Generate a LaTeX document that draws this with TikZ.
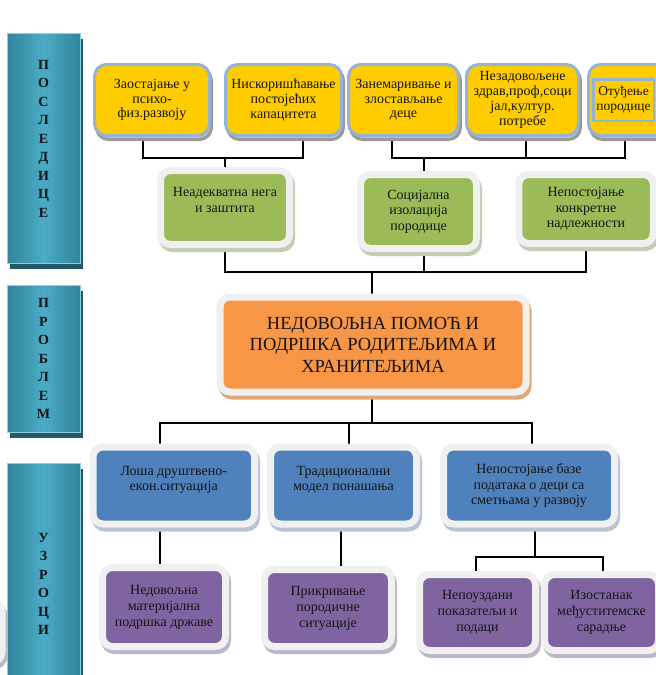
\documentclass[tikz,border=0pt]{standalone}
\usepackage{fontspec}
\setmainfont{Liberation Serif}
\usetikzlibrary{calc}
\pgfdeclarelayer{background}
\pgfsetlayers{background,main}
\definecolor{yel}{HTML}{FFCC00}
\definecolor{yelframe}{HTML}{95B3D7}
\definecolor{grn}{HTML}{9BBB59}
\definecolor{org}{HTML}{F79646}
\definecolor{blu}{HTML}{4F81BD}
\definecolor{pur}{HTML}{8064A2}
\definecolor{frm}{HTML}{F0F0F0}
\definecolor{tealD}{HTML}{31849B}
\definecolor{tealL}{HTML}{4BACC6}
\definecolor{tealS}{HTML}{215968}
\definecolor{tealE}{HTML}{93CDDD}
\definecolor{txt}{HTML}{141414}
\definecolor{shBlue}{HTML}{B9C3D3}
\definecolor{shGrn}{HTML}{C4CCB4}
\definecolor{shOrg}{HTML}{E2A878}
\definecolor{shPur}{HTML}{BDB5C9}
\tikzset{
  conn/.style={draw=black, line width=1.4pt},
  sidebar/.style={shade, left color=tealD, right color=tealD, middle color=tealL,
    draw=tealE, line width=0.6pt, minimum width=73pt, text=txt,
    font=\bfseries\fontsize{14}{18.5}\selectfont, align=center, inner sep=0pt,
    preaction={fill=tealS, transform canvas={shift={(3pt,-6pt)}}}},
  ybox/.style={rounded corners=12pt, fill=yel, draw=yelframe, line width=3pt, text=txt,
    align=center, inner sep=1pt, minimum height=71pt, font=\fontsize{14}{14.6}\selectfont,
    preaction={fill=shBlue, draw=gray!80, line width=3pt, transform canvas={shift={(2pt,-4pt)}}}},
  fbox/.style={rounded corners=10pt, fill=#1, draw=frm, line width=7pt, text=txt,
    align=center, inner sep=1pt},
  fshadow/.style={preaction={fill=#1, draw=#1, line width=7pt, transform canvas={shift={(2pt,-4pt)}}}},
  gbox/.style={fbox=grn, fshadow=shGrn, font=\fontsize{14}{15.5}\selectfont},
  bbox/.style={fbox=blu, fshadow=shBlue, minimum height=77pt, font=\fontsize{14}{14.8}\selectfont},
  pbox/.style={fbox=pur, fshadow=shPur, font=\fontsize{14}{16}\selectfont},
}
\begin{document}
\begin{tikzpicture}[x=1pt,y=-1pt]
\useasboundingbox (0,0) rectangle (656,675);
\clip (0,0) rectangle (656,675);

% side bars
\node[sidebar, minimum height=230pt] (s1) at (43.5,148) {П\\О\\С\\Л\\Е\\Д\\И\\Ц\\Е\\~};
\node[sidebar, minimum height=147pt] (s2) at (43.5,358.5) {П\\Р\\О\\Б\\Л\\Е\\М};
\node[sidebar, minimum height=242pt] (s3) at (43.5,584) {У\\З\\Р\\О\\Ц\\И};

% consequences (yellow)
\node[ybox, minimum width=115pt] (y1) at (152,100) {Заостајање у\\психо-\\физ.развоју};
\node[ybox, minimum width=116pt] (y2) at (283.5,100) {Нискоришћавање\\постојећих\\капацитета};
\node[ybox, minimum width=110pt] (y3) at (403.5,100) {Занемаривање и\\злостављање\\деце};
\node[ybox, minimum width=112pt, font=\fontsize{14}{15}\selectfont] (y4) at (522.5,100) {Незадовољене\\здрав,проф,соци\\јал,култур.\\потребе};
\node[ybox, minimum width=110pt] (y5) at (643.5,100) {};
\node[draw=yelframe, line width=2.5pt, fill=yel, text=txt, minimum width=60.5pt, minimum height=41.5pt,
  align=center, inner sep=0pt, font=\fontsize{13.5}{15}\selectfont] (y5t) at (623.5,100) {Отуђење\\породице};

% green
\node[gbox, minimum width=129pt, minimum height=74pt] (g1) at (225,207.5) {Неадекватна нега\\и заштита\\~};
\node[gbox, minimum width=116pt, minimum height=74pt] (g2) at (418.5,211.5) {Социјална\\изолација\\породице};
\node[gbox, minimum width=134.5pt, minimum height=69pt] (g3) at (586,209) {Непостојање\\конкретне\\надлежности};

% problem (orange)
\node[fbox=org, fshadow=shOrg, minimum width=306pt, minimum height=95pt,
  font=\fontsize{18.5}{21.5}\selectfont] (o) at (373,344.5)
  {НЕДОВОЉНА ПОМОЋ И\\ПОДРШКА РОДИТЕЉИМА И\\ХРАНИТЕЉИМА};

% causes (blue)
\node[bbox, minimum width=161.5pt] (b1) at (173.75,485.5) {Лоша друштвено-\\екон.ситуација\\~};
\node[bbox, minimum width=146pt] (b2) at (343.5,485.5) {Традиционални\\модел понашања\\~};
\node[bbox, minimum width=171pt, font=\fontsize{14}{15.3}\selectfont] (b3) at (529,485.5) {Непостојање базе\\података о деци са\\сметњама у развоју};

% purple
\node[pbox, minimum width=124pt, minimum height=60pt] (pcut) at (-60,632) {};
\node[pbox, minimum width=123pt, minimum height=79pt] (p1) at (164,607) {Недовољна\\материјална\\подршка државе};
\node[pbox, minimum width=127pt, minimum height=77pt] (p2) at (328,608) {Прикривање\\породичне\\ситуације};
\node[pbox, minimum width=116pt, minimum height=76pt] (p3) at (477.5,612.5) {Непоуздани\\показатељи и\\подаци};
\node[pbox, minimum width=114pt, minimum height=76pt] (p4) at (601.5,612.5) {Изостанак\\међуститемске\\сарадње};

% junctions
\coordinate (j1) at (225,158);
\coordinate (j2) at (424,158);
\coordinate (j3) at (372,272);
\coordinate (j4) at (372,423);
\coordinate (j5) at (535,557);

\begin{pgfonlayer}{background}
\draw[conn] ([xshift=-9pt]y1.south) |- ([xshift=19.5pt]y2.south |- j1) -- ([xshift=19.5pt]y2.south);
\draw[conn] (j1) -- (g1.north);
\draw[conn] ([xshift=-11.5pt]y3.south) |- ([xshift=-18.5pt]y5.south |- j2) -- ([xshift=-18.5pt]y5.south);
\draw[conn] ([xshift=3.5pt]y4.south) -- ([xshift=3.5pt]y4.south |- j2);
\draw[conn] (j2) -- (j2 |- g2.north);
\draw[conn] (g1.south) |- (g3.south |- j3) -- (g3.south);
\draw[conn] ([xshift=5.5pt]g2.south) -- ([xshift=5.5pt]g2.south |- j3);
\draw[conn] (j3) -- (j3 |- o.north);
\draw[conn] (j4 |- o.south) -- (j4);
\draw[conn] ([xshift=-13.75pt]b1.north) |- ([xshift=3pt]b3.north |- j4) -- ([xshift=3pt]b3.north);
\draw[conn] ([xshift=5.5pt]b2.north) -- ([xshift=5.5pt]b2.north |- j4);
\draw[conn] ([xshift=-13.75pt]b1.south) -- ([xshift=-13.75pt]b1.south |- p1.north);
\draw[conn] ([xshift=-2.5pt]b2.south) -- ([xshift=-2.5pt]b2.south |- p2.north);
\draw[conn] ([xshift=6pt]b3.south) -- (j5);
\draw[conn] ([xshift=-1.5pt]p3.north) |- ([xshift=1.5pt]p4.north |- j5) -- ([xshift=1.5pt]p4.north);
\end{pgfonlayer}
\end{tikzpicture}
\end{document}
